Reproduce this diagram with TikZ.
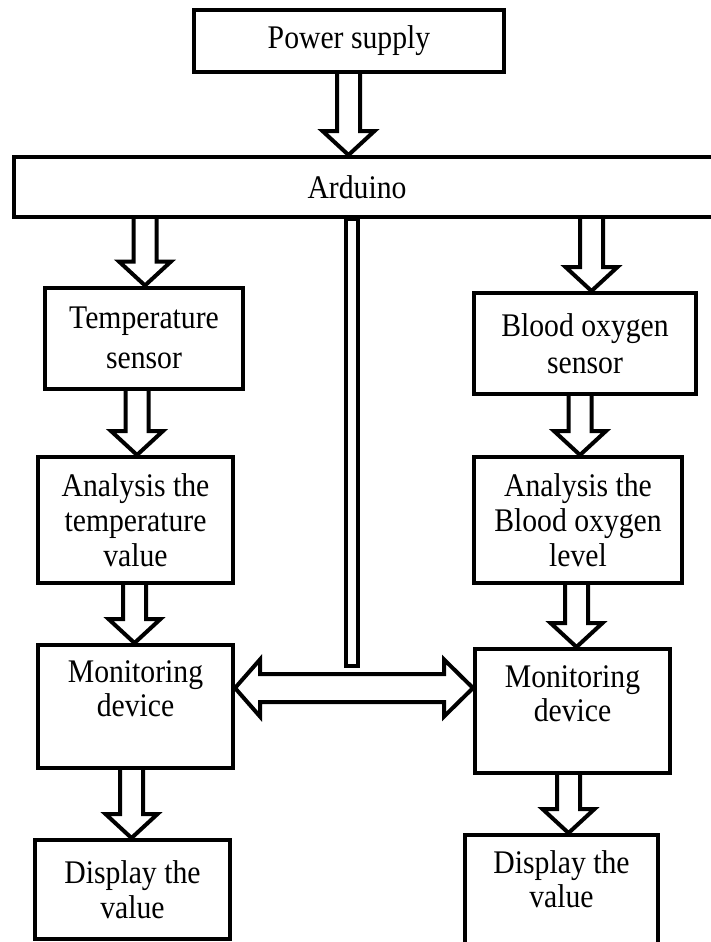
\documentclass[tikz,border=0pt]{standalone}
\usepackage{fontspec}
\setmainfont{Liberation Serif}[FakeStretch=0.9]
\usetikzlibrary{calc}

% hollow block arrow from the bottom of #1 to the top of #2, at x = #3
\newcommand{\fatarrow}[3]{%
  \draw[fat] let \p1=(#1.south -| #3,0), \p2=(#2.north -| #3,0) in
    (\x1-11.5pt,\y1) -- (\x1-11.5pt,\y2+24pt) -- (\x1-26pt,\y2+24pt) -- (\x1,\y2)
    -- (\x1+26pt,\y2+24pt) -- (\x1+11.5pt,\y2+24pt) -- (\x1+11.5pt,\y1);}

\begin{document}
\begin{tikzpicture}[x=1pt, y=-1pt,
    box/.style={rectangle, draw=black, line width=4pt, align=center, inner sep=0pt,
        text=black, font=\fontsize{33}{35}\selectfont},
    txt/.style={align=center, inner sep=0pt, text=black, font=\fontsize{33}{34}\selectfont},
    fat/.style={draw=black, line width=4pt, line join=miter}
]
\useasboundingbox (0,0) rectangle (710,942);

\node [box, minimum width=310, minimum height=62] (Power) at (349,41) {Power supply};
\node [box, minimum width=710, minimum height=60] (Arduino) at (369,187) {\hspace*{-24pt}Arduino};

% left branch
\node [box, minimum width=198, minimum height=101, font=\fontsize{33}{40}\selectfont]
    (TempSensor) at (144,338) {Temperature\\sensor};
\node [box, minimum width=195, minimum height=126] (TempAnalysis) at (135.5,520)
    {Analysis the\\temperature\\value};
\node [box, minimum width=195, minimum height=123] (MonLeft) at (135.5,706.5) {};
\node [txt] (MonLeftText) at (135.5,689) {Monitoring\\device};
\node [box, minimum width=195, minimum height=99] (DispLeft) at (132.5,889.5) {Display the\\value};

% right branch
\node [box, minimum width=222, minimum height=101, font=\fontsize{33}{37}\selectfont]
    (OxySensor) at (585,343.5) {Blood oxygen\\sensor};
\node [box, minimum width=208, minimum height=126] (OxyAnalysis) at (578,520)
    {Analysis the\\Blood oxygen\\level};
\node [box, minimum width=195, minimum height=124] (MonRight) at (572.5,711) {};
\node [txt] (MonRightText) at (572.5,694) {Monitoring\\device};
\node [box, minimum width=193, minimum height=125] (DispRight) at (561.5,897.5) {};
\node [txt] (DispRightText) at (561.5,879) {Display the\\value};

\fatarrow{Power}{Arduino}{348.5}
\fatarrow{Arduino}{TempSensor}{145}
\fatarrow{Arduino}{OxySensor}{591.5}
\fatarrow{TempSensor}{TempAnalysis}{137}
\fatarrow{OxySensor}{OxyAnalysis}{580}
\fatarrow{TempAnalysis}{MonLeft}{134.5}
\fatarrow{OxyAnalysis}{MonRight}{576.5}
\fatarrow{MonLeft}{DispLeft}{131.5}
\fatarrow{MonRight}{DispRight}{568.5}

% bar down from the Arduino and the link between the two devices
\coordinate (BarEnd) at (351.5,666);
\draw [fat] ([xshift=-6]Arduino.south -| BarEnd) rectangle ([xshift=6]BarEnd);
\coordinate (Link) at (353,688);
\draw [fat] let \p1=(MonLeft.east |- Link), \p2=(MonRight.west |- Link) in
    (\x1,\y1) -- (\x1+25pt,\y1+28.5pt) -- (\x1+25pt,\y1+14pt) -- (\x2-29pt,\y1+14pt)
    -- (\x2-29pt,\y1+28.5pt) -- (\x2,\y1) -- (\x2-29pt,\y1-28.5pt) -- (\x2-29pt,\y1-14pt)
    -- (\x1+25pt,\y1-14pt) -- (\x1+25pt,\y1-28.5pt) -- cycle;

\end{tikzpicture}
\end{document}
